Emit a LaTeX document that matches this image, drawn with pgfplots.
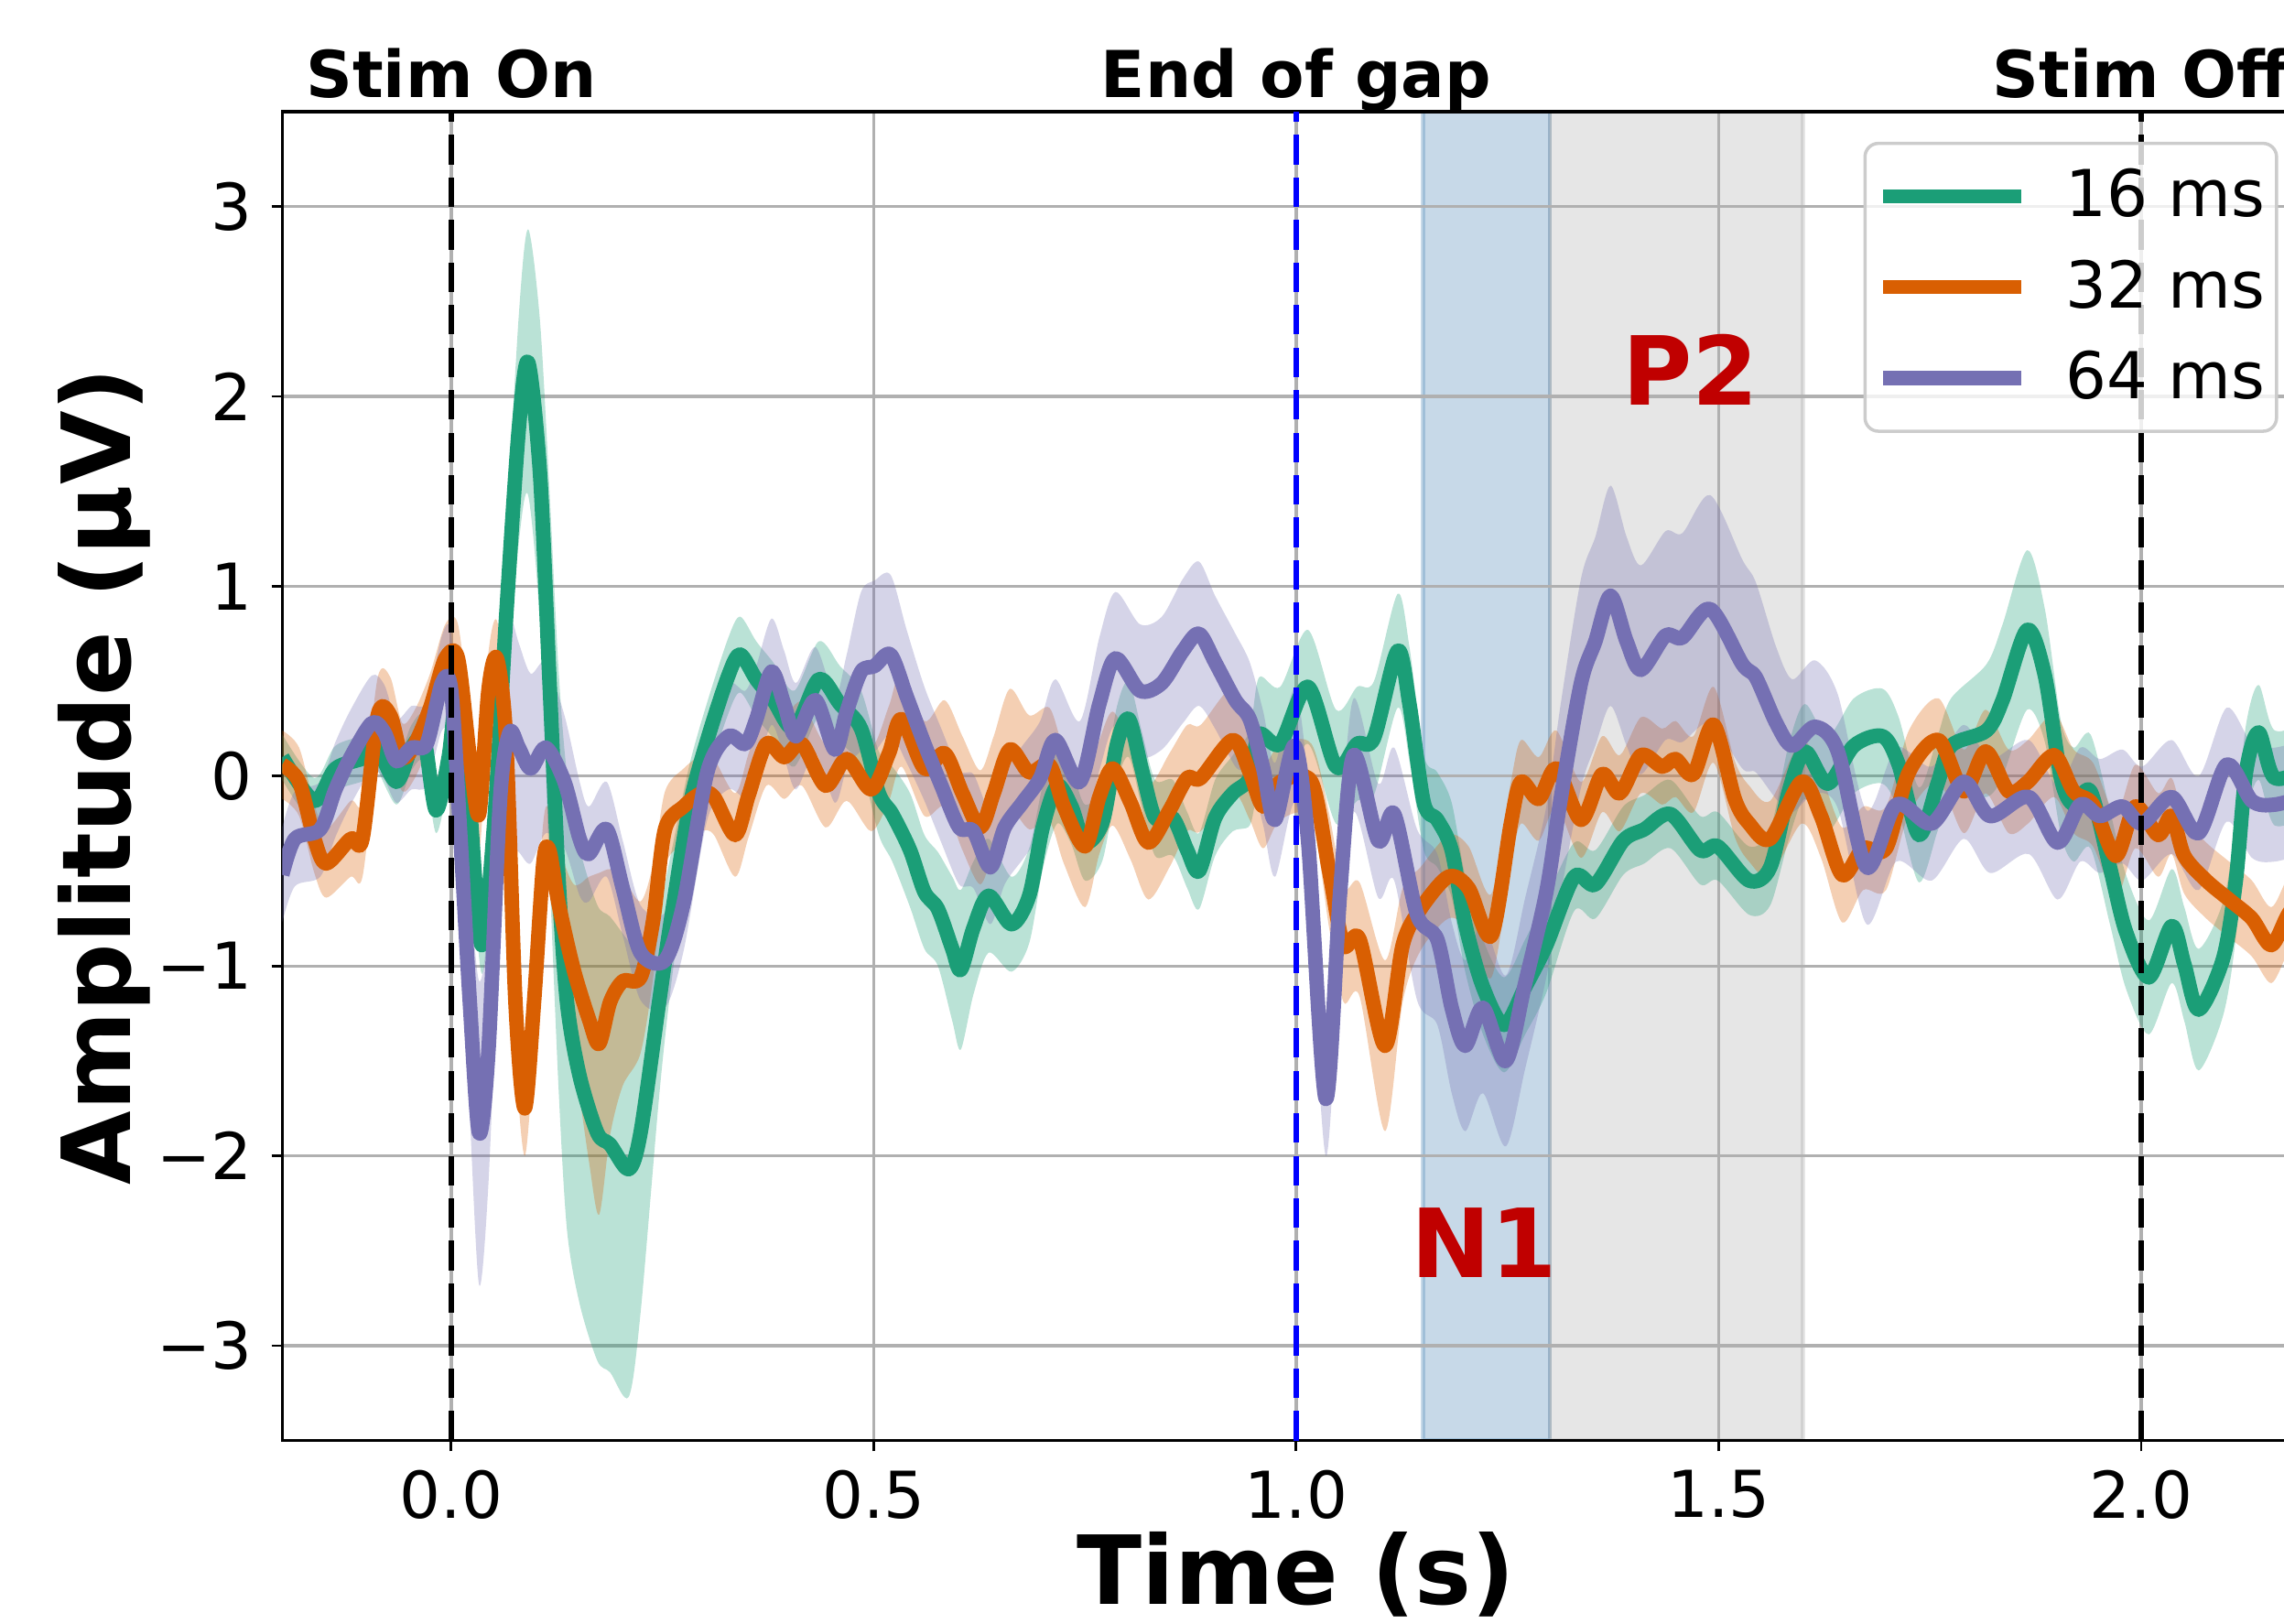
\documentclass[border=0pt]{standalone}
\usepackage{fontspec}
\setmainfont{DejaVu Sans}
\usepackage{pgfplots}
\pgfplotsset{compat=1.18}
\usepackage{pgfplotstable}
\usepgfplotslibrary{fillbetween}

\definecolor{dkgreen}{HTML}{1B9E77}
\definecolor{dkorange}{HTML}{D95F02}
\definecolor{dkpurple}{HTML}{7570B3}
\definecolor{steelblue}{RGB}{70,130,180}
\definecolor{gridgray}{HTML}{B0B0B0}
\definecolor{annred}{RGB}{192,0,0}

% t = time (s), m = mean amplitude, e = half width of shaded band
\pgfplotstableread{
t m e
-0.200 0.10 0.12
-0.162 -0.13 0.12
-0.137 0.04 0.12
-0.101 0.10 0.12
-0.090 0.17 0.12
-0.065 -0.03 0.12
-0.047 0.15 0.12
-0.032 0.19 0.12
-0.018 -0.18 0.12
-0.003 0.10 0.12
0.008 0.45 0.15
0.022 -0.16 0.15
0.036 -0.89 0.15
0.051 -0.24 0.25
0.065 0.84 0.4
0.080 1.83 0.6
0.091 2.18 0.7
0.105 1.60 0.8
0.116 0.53 1.0
0.127 -0.54 1.1
0.137 -1.19 1.2
0.152 -1.58 1.2
0.173 -1.88 1.2
0.188 -1.94 1.2
0.210 -2.07 1.2
0.224 -1.88 0.95
0.246 -1.19 0.5
0.260 -0.76 0.35
0.282 -0.16 0.22
0.303 0.19 0.2
0.328 0.53 0.2
0.342 0.64 0.2
0.361 0.51 0.2
0.381 0.40 0.2
0.406 0.25 0.2
0.435 0.51 0.2
0.460 0.38 0.2
0.485 0.25 0.2
0.506 -0.09 0.22
0.522 -0.20 0.25
0.543 -0.39 0.3
0.560 -0.61 0.3
0.576 -0.70 0.3
0.593 -0.91 0.38
0.603 -1.02 0.42
0.618 -0.80 0.35
0.636 -0.63 0.3
0.663 -0.78 0.25
0.684 -0.63 0.25
0.700 -0.27 0.22
0.717 -0.05 0.2
0.734 -0.16 0.2
0.750 -0.35 0.2
0.771 -0.24 0.2
0.788 0.17 0.2
0.802 0.30 0.2
0.817 0.04 0.2
0.833 -0.22 0.2
0.854 -0.22 0.2
0.871 -0.39 0.2
0.885 -0.50 0.2
0.904 -0.22 0.2
0.925 -0.09 0.2
0.945 -0.01 0.25
0.956 0.22 0.3
0.981 0.17 0.3
1.014 0.47 0.3
1.047 0.05 0.3
1.072 0.17 0.3
1.092 0.20 0.3
1.120 0.66 0.3
1.134 0.38 0.3
1.151 -0.14 0.25
1.167 -0.23 0.25
1.184 -0.39 0.25
1.200 -0.78 0.25
1.221 -1.11 0.25
1.246 -1.31 0.25
1.271 -1.11 0.25
1.296 -0.89 0.25
1.329 -0.53 0.18
1.354 -0.57 0.18
1.387 -0.34 0.18
1.412 -0.28 0.18
1.443 -0.20 0.18
1.478 -0.39 0.18
1.499 -0.37 0.18
1.536 -0.55 0.18
1.561 -0.48 0.2
1.583 -0.08 0.25
1.602 0.13 0.25
1.629 -0.04 0.25
1.660 0.16 0.25
1.694 0.21 0.25
1.713 0.06 0.25
1.737 -0.31 0.25
1.759 -0.04 0.25
1.775 0.16 0.25
1.817 0.24 0.35
1.836 0.40 0.4
1.865 0.77 0.42
1.886 0.53 0.35
1.905 -0.01 0.3
1.920 -0.15 0.3
1.940 -0.08 0.3
1.963 -0.48 0.3
1.982 -0.82 0.3
2.009 -1.06 0.3
2.036 -0.79 0.3
2.051 -0.99 0.3
2.068 -1.23 0.32
2.097 -0.96 0.3
2.112 -0.55 0.3
2.124 0.02 0.25
2.139 0.23 0.25
2.158 -0.01 0.25
2.200 0.05 0.25
}\tgreen

\pgfplotstableread{
t m e
-0.200 0.06 0.18
-0.180 -0.03 0.18
-0.162 -0.33 0.18
-0.148 -0.46 0.18
-0.119 -0.33 0.2
-0.105 -0.33 0.2
-0.087 0.32 0.2
-0.072 0.32 0.2
-0.058 0.10 0.18
-0.043 0.17 0.18
-0.025 0.36 0.18
-0.007 0.62 0.18
0.008 0.62 0.18
0.022 0.10 0.2
0.033 -0.20 0.2
0.044 0.45 0.2
0.054 0.62 0.2
0.065 0.19 0.22
0.076 -1.19 0.25
0.087 -1.75 0.25
0.098 -1.19 0.25
0.109 -0.46 0.22
0.116 -0.39 0.22
0.127 -0.67 0.3
0.145 -1.02 0.45
0.163 -1.28 0.75
0.175 -1.41 0.9
0.188 -1.19 0.7
0.203 -1.08 0.55
0.224 -1.06 0.4
0.239 -0.76 0.3
0.253 -0.28 0.2
0.275 -0.16 0.2
0.296 -0.09 0.2
0.311 -0.11 0.2
0.336 -0.31 0.22
0.352 -0.10 0.22
0.373 0.17 0.22
0.394 0.10 0.22
0.415 0.17 0.22
0.443 -0.05 0.22
0.468 0.09 0.22
0.497 -0.07 0.22
0.518 0.12 0.25
0.533 0.30 0.25
0.560 0.04 0.25
0.584 0.12 0.28
0.605 -0.09 0.3
0.626 -0.27 0.3
0.642 -0.09 0.3
0.661 0.14 0.32
0.684 0.02 0.3
0.708 0.06 0.3
0.725 -0.16 0.3
0.750 -0.37 0.32
0.767 -0.11 0.3
0.783 0.04 0.3
0.804 -0.14 0.3
0.825 -0.35 0.3
0.850 -0.18 0.3
0.871 -0.01 0.28
0.887 -0.01 0.28
0.925 0.19 0.28
0.945 0.02 0.25
0.961 -0.16 0.22
0.981 -0.03 0.2
1.018 -0.03 0.2
1.039 -0.50 0.3
1.056 -0.89 0.3
1.075 -0.86 0.3
1.105 -1.42 0.45
1.126 -0.89 0.3
1.147 -0.70 0.22
1.180 -0.53 0.22
1.204 -0.59 0.22
1.231 -0.84 0.22
1.254 -0.25 0.22
1.266 -0.03 0.22
1.287 -0.12 0.22
1.308 0.04 0.2
1.337 -0.23 0.2
1.362 0.01 0.2
1.383 -0.09 0.2
1.408 0.11 0.2
1.433 0.05 0.2
1.449 0.09 0.2
1.470 0.01 0.2
1.494 0.27 0.2
1.519 -0.12 0.2
1.536 -0.25 0.2
1.561 -0.33 0.2
1.598 -0.03 0.22
1.621 -0.21 0.22
1.646 -0.52 0.25
1.671 -0.38 0.22
1.698 -0.38 0.22
1.725 0.02 0.22
1.760 0.19 0.22
1.790 -0.08 0.22
1.816 0.13 0.22
1.843 -0.08 0.22
1.866 -0.03 0.22
1.897 0.11 0.22
1.920 -0.08 0.22
1.943 -0.15 0.22
1.970 -0.42 0.22
1.993 -0.16 0.22
2.020 -0.31 0.22
2.036 -0.21 0.2
2.051 -0.42 0.2
2.077 -0.55 0.2
2.104 -0.65 0.2
2.131 -0.75 0.2
2.154 -0.89 0.2
2.175 -0.72 0.2
2.200 -0.60 0.2
}\torange

\pgfplotstableread{
t m e
-0.200 -0.52 0.25
-0.185 -0.33 0.25
-0.155 -0.28 0.25
-0.137 -0.07 0.25
-0.119 0.10 0.25
-0.094 0.28 0.25
-0.079 0.23 0.25
-0.065 0.08 0.22
-0.047 0.15 0.22
-0.029 0.17 0.22
-0.011 0.49 0.25
0.000 0.45 0.3
0.011 -0.33 0.4
0.022 -1.19 0.6
0.033 -1.88 0.8
0.044 -1.45 0.7
0.058 -0.11 0.6
0.069 0.23 0.6
0.080 0.15 0.55
0.094 0.04 0.5
0.112 0.15 0.45
0.134 -0.03 0.35
0.152 -0.33 0.3
0.163 -0.41 0.25
0.184 -0.28 0.25
0.203 -0.59 0.25
0.224 -0.93 0.25
0.253 -0.97 0.25
0.275 -0.67 0.25
0.303 0.02 0.25
0.328 0.21 0.28
0.348 0.17 0.28
0.361 0.30 0.28
0.379 0.55 0.28
0.394 0.38 0.28
0.408 0.21 0.28
0.431 0.40 0.28
0.454 0.14 0.28
0.468 0.34 0.3
0.485 0.55 0.42
0.501 0.58 0.45
0.520 0.64 0.42
0.539 0.42 0.35
0.560 0.17 0.3
0.580 -0.05 0.3
0.601 -0.27 0.3
0.618 -0.29 0.3
0.638 -0.48 0.3
0.655 -0.27 0.3
0.676 -0.14 0.3
0.697 -0.01 0.3
0.715 0.19 0.32
0.744 -0.03 0.32
0.767 0.38 0.35
0.786 0.62 0.35
0.815 0.45 0.35
0.841 0.49 0.35
0.866 0.66 0.38
0.885 0.75 0.38
0.904 0.60 0.35
0.928 0.40 0.35
0.945 0.30 0.3
0.961 0.04 0.3
0.975 -0.23 0.3
0.998 0.16 0.3
1.014 -0.34 0.3
1.035 -1.70 0.3
1.052 -0.61 0.3
1.068 0.11 0.3
1.097 -0.34 0.3
1.116 -0.20 0.35
1.143 -0.73 0.45
1.167 -0.86 0.45
1.184 -1.22 0.45
1.200 -1.42 0.45
1.221 -1.22 0.45
1.248 -1.50 0.45
1.271 -1.09 0.45
1.296 -0.61 0.45
1.313 -0.12 0.5
1.337 0.49 0.55
1.354 0.71 0.55
1.372 0.95 0.58
1.391 0.71 0.55
1.408 0.56 0.55
1.437 0.74 0.55
1.457 0.73 0.55
1.490 0.88 0.6
1.528 0.59 0.55
1.544 0.52 0.5
1.568 0.28 0.4
1.587 0.16 0.35
1.614 0.26 0.35
1.641 0.13 0.3
1.675 -0.48 0.3
1.710 -0.15 0.3
1.752 -0.25 0.3
1.790 -0.03 0.3
1.821 -0.21 0.3
1.867 -0.11 0.3
1.901 -0.35 0.3
1.928 -0.15 0.3
1.951 -0.21 0.3
1.978 -0.16 0.3
2.001 -0.25 0.3
2.036 -0.11 0.3
2.068 -0.30 0.3
2.101 0.06 0.3
2.131 -0.13 0.3
2.158 -0.15 0.3
2.200 -0.10 0.3
}\tpurple

\newcommand{\smallfont}{\fontsize{12}{14}\selectfont}
\newcommand{\bigfont}{\bfseries\fontsize{17.7}{20}\selectfont}

\begin{document}
\begin{tikzpicture}
\begin{axis}[
  set layers,
  scale only axis,
  width=376.6pt, height=246.8pt,
  xmin=-0.2, xmax=2.2, ymin=-3.5, ymax=3.5,
  xtick={0,0.5,1,1.5,2}, xticklabels={0.0,0.5,1.0,1.5,2.0},
  ytick={-3,-2,-1,0,1,2,3}, yticklabels={−3,−2,−1,0,1,2,3},
  tick pos=left, tick align=outside, major tick length=2pt,
  every tick/.style={black, line width=0.5pt},
  tick label style={font=\smallfont},
  grid=major, major grid style={gridgray, line width=0.55pt},
  axis line style={black, line width=0.6pt},
  clip mode=individual,
  every axis plot/.append style={line join=round},
  legend cell align=left,
  legend image code/.code={\draw[#1, line width=2.6pt] (0pt,0pt) -- (25.7pt,0pt);},
  legend style={at={(rel axis cs:1,1)}, anchor=north east,
    xshift=-5.95pt, yshift=-5.6pt,
    draw=black!20, line width=0.6pt, rounded corners=2.5pt,
    fill=white, fill opacity=0.8, text opacity=1, draw opacity=1,
    font=\smallfont, inner xsep=2.1pt, inner ysep=4.9pt,
    column sep=6.9pt, row sep=6.9pt,
    nodes={inner xsep=0pt, inner ysep=0pt, text height=8.75pt, text depth=1.2pt}},
]
% N1 and P2 windows
\addplot[forget plot, on layer=axis background, fill=steelblue, fill opacity=0.3,
  draw=steelblue, draw opacity=0.3, line width=0.8pt]
  coordinates {(1.15,-3.5) (1.3,-3.5) (1.3,3.5) (1.15,3.5)} -- cycle;
\addplot[forget plot, on layer=axis background, fill=gray, fill opacity=0.2,
  draw=gray, draw opacity=0.2, line width=0.8pt]
  coordinates {(1.3,-3.5) (1.6,-3.5) (1.6,3.5) (1.3,3.5)} -- cycle;

% shaded bands
\addplot[forget plot, draw=none, smooth, name path=gU] table[x=t, y expr=\thisrow{m}+\thisrow{e}] {\tgreen};
\addplot[forget plot, draw=none, smooth, name path=gL] table[x=t, y expr=\thisrow{m}-\thisrow{e}] {\tgreen};
\addplot[forget plot, on layer=axis background, fill=dkgreen, fill opacity=0.3, draw=none] fill between[of=gU and gL];
\addplot[forget plot, draw=none, smooth, name path=oU] table[x=t, y expr=\thisrow{m}+\thisrow{e}] {\torange};
\addplot[forget plot, draw=none, smooth, name path=oL] table[x=t, y expr=\thisrow{m}-\thisrow{e}] {\torange};
\addplot[forget plot, on layer=axis background, fill=dkorange, fill opacity=0.3, draw=none] fill between[of=oU and oL];
\addplot[forget plot, draw=none, smooth, name path=pU] table[x=t, y expr=\thisrow{m}+\thisrow{e}] {\tpurple};
\addplot[forget plot, draw=none, smooth, name path=pL] table[x=t, y expr=\thisrow{m}-\thisrow{e}] {\tpurple};
\addplot[forget plot, on layer=axis background, fill=dkpurple, fill opacity=0.3, draw=none] fill between[of=pU and pL];

% means
\addplot[dkgreen, line width=2.7pt, smooth] table[x=t, y=m] {\tgreen};
\addplot[dkorange, line width=2.7pt, smooth] table[x=t, y=m] {\torange};
\addplot[dkpurple, line width=2.7pt, smooth] table[x=t, y=m] {\tpurple};
\legend{16 ms, 32 ms, 64 ms}

% event markers
\addplot[forget plot, black, line width=1.1pt, dash pattern=on 5.5pt off 2.4pt] coordinates {(0,-3.5) (0,3.5)};
\addplot[forget plot, blue, line width=1.1pt, dash pattern=on 5.5pt off 2.4pt] coordinates {(1,-3.5) (1,3.5)};
\addplot[forget plot, black, line width=1.1pt, dash pattern=on 5.5pt off 2.4pt] coordinates {(2,-3.5) (2,3.5)};

\node[anchor=base, inner sep=0pt, font=\bfseries\smallfont] at ([yshift=2.7pt]axis cs:0,3.5) {Stim On};
\node[anchor=base, inner sep=0pt, font=\bfseries\smallfont] at ([yshift=2.7pt]axis cs:1,3.5) {End of gap};
\node[anchor=base, inner sep=0pt, font=\bfseries\smallfont] at ([yshift=2.7pt]axis cs:2,3.5) {Stim Off};
\node[anchor=base, inner sep=0pt, text=annred, font=\bigfont] at (axis cs:1.222,-2.64) {N1};
\node[anchor=base, inner sep=0pt, text=annred, font=\bigfont] at (axis cs:1.467,1.953) {P2};

\node[anchor=base, inner sep=0pt, font=\bigfont] at ([yshift=-30.4pt]rel axis cs:0.5,0) {Time (s)};
\node[anchor=base, inner sep=0pt, rotate=90, font=\bigfont] at ([xshift=-28.2pt]rel axis cs:0,0.5) {Amplitude (μV)};

\coordinate (bbSW) at (axis cs:-0.534,-4.464);
\coordinate (bbNE) at (axis cs:2.169,4.088);
\end{axis}
\pgfresetboundingbox
\useasboundingbox (bbSW) rectangle (bbNE);
\end{tikzpicture}
\end{document}
